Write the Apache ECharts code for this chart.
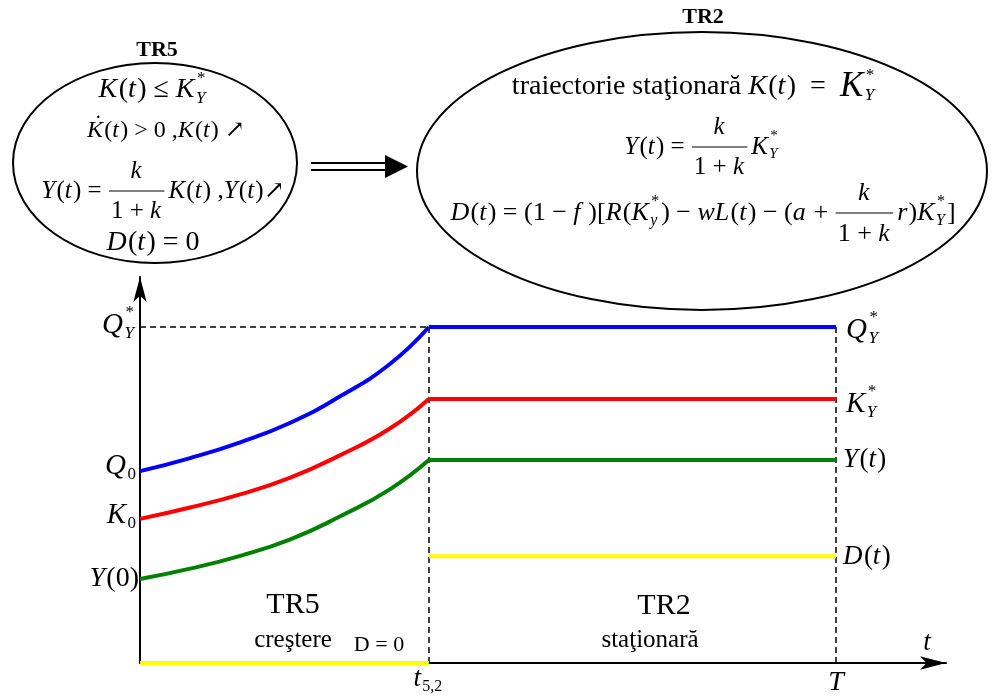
<!DOCTYPE html>
<html lang="ro">
<head>
<meta charset="UTF-8" />
<title>TR5 - TR2</title>
<script src="https://cdn.jsdelivr.net/npm/echarts@6/dist/echarts.min.js"></script>
<style>html,body{margin:0;padding:0;background:#fff}</style>
</head>
<body>
<div id="main" style="width: 993px; height: 700px"></div>
<script>
// moments on the time axis: switch t5,2 and horizon T
const tSwitch = 4.15;
const tEnd = 10;
const tMax = 11.58;
const vMax = 11.49;

// TR5 (crestere): t from 0 to t5,2
const growthT = [0, 0.72, 1.44, 2.16, 2.87, 3.59, 4.15];
const qGrowth = [5.71, 6.1, 6.57, 7.15, 7.93, 8.9, 10];
const kGrowth = [4.29, 4.63, 5.02, 5.52, 6.18, 6.98, 7.86];
const yGrowth = [2.5, 2.81, 3.19, 3.68, 4.36, 5.17, 6.04];
const dGrowth = [0, 0, 0, 0, 0, 0, 0];

// TR2 (stationara): t from t5,2 to T
const stationT = [4.15, 10];
const qStation = [10, 10];
const kStation = [7.86, 7.86];
const yStation = [6.04, 6.04];
const dStation = [3.18, 3.18];

const pair = (ts, vs) => ts.map((t, i) => [t, vs[i]]);

function curve(name, color, ts, vs, smooth) {
  return {
    name: name, type: "line", data: pair(ts, vs), smooth: smooth,
    symbol: "none", silent: true, z: 3,
    lineStyle: { color: color, width: 4 }
  };
}

let myChart = echarts.init(document.getElementById("main"));

const axisCommon = {
  type: "value", min: 0,
  axisTick: { show: false }, axisLabel: { show: false }, splitLine: { show: false }
};

let series = [
  curve("Q", "#0000ff", growthT, qGrowth, 0.5),
  curve("K", "#ff0000", growthT, kGrowth, 0.5),
  curve("Y", "#008000", growthT, yGrowth, 0.5),
  curve("D", "#ffff00", growthT, dGrowth, false),
  curve("Q*", "#0000ff", stationT, qStation, false),
  curve("K*", "#ff0000", stationT, kStation, false),
  curve("Yt", "#008000", stationT, yStation, false),
  curve("Dt", "#ffff00", stationT, dStation, false)
];
// dashed guide lines at Q*, t5,2 and T
series[4].markLine = {
  symbol: "none", silent: true, animation: false, z: 1,
  label: { show: false },
  lineStyle: { color: "#000", type: [6, 4], width: 1.5 },
  data: [
    [{ coord: [0, qStation[0]] }, { coord: [tSwitch, qStation[0]] }],
    [{ coord: [tSwitch, 0] }, { coord: [tSwitch, qStation[0]] }],
    [{ coord: [tEnd, 0] }, { coord: [tEnd, qStation[0]] }]
  ]
};

myChart.setOption({
  animation: false,
  grid: { left: 140, top: 277, right: 47, bottom: 37, outerBoundsMode: "none" },
  xAxis: Object.assign({}, axisCommon, {
    max: tMax,
    axisLine: { show: true, onZero: false, symbol: ["none", "arrow"], symbolSize: [10, 26],
      lineStyle: { color: "#000", width: 2 } }
  }),
  yAxis: Object.assign({}, axisCommon, {
    max: vMax,
    axisLine: { show: true, onZero: false, symbol: ["none", "arrow"], symbolSize: [10, 25],
      lineStyle: { color: "#000", width: 2 } }
  }),
  series: series
});

// ---- small formula layout (text pieces, scripts, fractions) ----
const SERIF = '"Liberation Serif", "Times New Roman", "DejaVu Serif", serif';
const mctx = document.createElement("canvas").getContext("2d");
function font(size, italic, bold) {
  return (italic ? "italic " : "") + (bold ? "bold " : "") + size + "px " + SERIF;
}
function textW(str, f) { mctx.font = f; return mctx.measureText(str).width; }

function build(tokens, size) {
  let x = 0;
  const parts = [], bars = [];
  tokens.forEach((tk) => {
    if (tk.r !== undefined || tk.i !== undefined) {
      const it = tk.i !== undefined;
      const s = it ? tk.i : tk.r;
      const sz = tk.s || size;
      const f = font(sz, it);
      const w = textW(s, f);
      parts.push({ dx: x, dy: 0, text: s, font: f });
      if (tk.dot) parts.push({ dx: x + w * 0.45, dy: -sz * 0.25, text: "\u02D9", font: font(sz, false) });
      x += w + (it ? size * 0.05 : 0);
    } else if (tk.sb !== undefined || tk.sp !== undefined) {
      const ss = Math.round(size * 0.6);
      let w = 0;
      if (tk.sp) {
        const f = font(ss, false);
        parts.push({ dx: x + 1, dy: -size * 0.42, text: tk.sp, font: f });
        w = Math.max(w, textW(tk.sp, f) + 1);
      }
      if (tk.sb) {
        const f = font(ss, !tk.rm);
        parts.push({ dx: x, dy: size * 0.3, text: tk.sb, font: f });
        w = Math.max(w, textW(tk.sb, f));
      }
      x += w + 2;
    } else if (tk.fr) {
      const n = build(tk.fr[0], size), d = build(tk.fr[1], size);
      const w = Math.max(n.w, d.w) + 6;
      n.parts.forEach((p) => parts.push(Object.assign({}, p, { dx: x + (w - n.w) / 2 + p.dx, dy: p.dy - size * 0.78 })));
      d.parts.forEach((p) => parts.push(Object.assign({}, p, { dx: x + (w - d.w) / 2 + p.dx, dy: p.dy + size * 0.8 })));
      bars.push({ dx: x + 1, dy: 0, w: w - 2 });
      x += w + 3;
    }
  });
  return { w: x, parts: parts, bars: bars };
}

function place(tokens, size, x, cy, align) {
  const b = build(tokens, size);
  const x0 = align === "center" ? x - b.w / 2 : align === "right" ? x - b.w : x;
  const els = b.parts.map((p) => ({
    type: "text", x: x0 + p.dx, y: cy + p.dy, silent: true, z: 10,
    style: { text: p.text, font: p.font, fill: "#000", align: "left", verticalAlign: "middle",
      textAlign: "left", textVerticalAlign: "middle" }
  }));
  b.bars.forEach((br) => els.push({
    type: "line", silent: true, z: 10,
    shape: { x1: x0 + br.dx, y1: cy + br.dy, x2: x0 + br.dx + br.w, y2: cy + br.dy },
    style: { stroke: "#000", lineWidth: 1.2 }
  }));
  return els;
}

function plain(text, size, x, cy, opts) {
  opts = opts || {};
  return {
    type: "text", x: x, y: cy, silent: true, z: 10,
    style: { text: text, font: font(size, opts.italic, opts.bold), fill: "#000",
      align: "center", verticalAlign: "middle", textAlign: "center", textVerticalAlign: "middle" }
  };
}

const frac = { fr: [[{ i: "k" }], [{ r: "1 + " }, { i: "k" }]] };
const Kstar = [{ i: "K" }, { sb: "Y", sp: "*" }];

let els = [];

// boxes at the top
els.push({ type: "ellipse", silent: true, shape: { cx: 155, cy: 163, rx: 142, ry: 100 },
  style: { fill: "none", stroke: "#000", lineWidth: 2 } });
els.push({ type: "ellipse", silent: true, shape: { cx: 702, cy: 171, rx: 285, ry: 139 },
  style: { fill: "none", stroke: "#000", lineWidth: 2 } });
els.push(plain("TR5", 22, 157, 50, { bold: true }));
els.push(plain("TR2", 22, 703, 17, { bold: true }));

// double arrow between the boxes
els.push({ type: "line", silent: true, shape: { x1: 311, y1: 163, x2: 388, y2: 163 }, style: { stroke: "#000", lineWidth: 2 } });
els.push({ type: "line", silent: true, shape: { x1: 311, y1: 170, x2: 388, y2: 170 }, style: { stroke: "#000", lineWidth: 2 } });
els.push({ type: "polygon", silent: true, shape: { points: [[385, 155], [408, 166.5], [385, 178]] }, style: { fill: "#000" } });

// TR5 box text
els = els.concat(place([{ i: "K" }, { r: "(" }, { i: "t" }, { r: ") \u2264 " }].concat(Kstar), 28, 153, 90, "center"));
els = els.concat(place([{ i: "K", dot: true }, { r: "(" }, { i: "t" }, { r: ") > 0 ," }, { i: "K" }, { r: "(" }, { i: "t" }, { r: ") \u2197" }], 24, 166, 131, "center"));
els = els.concat(place([{ i: "Y" }, { r: "(" }, { i: "t" }, { r: ") = " }, frac, { i: "K" }, { r: "(" }, { i: "t" }, { r: ") ," }, { i: "Y" }, { r: "(" }, { i: "t" }, { r: ")\u2197" }], 25, 163, 191, "center"));
els = els.concat(place([{ i: "D" }, { r: "(" }, { i: "t" }, { r: ") = 0" }], 28, 153, 243, "center"));

// TR2 box text
els = els.concat(place([{ r: "traiectorie sta\u0163ionar\u0103 " }, { i: "K" }, { r: "(" }, { i: "t" }, { r: ")  =  " }, { i: "K", s: 35 }, { sb: "Y", sp: "*" }], 28, 694, 87, "center"));
els = els.concat(place([{ i: "Y" }, { r: "(" }, { i: "t" }, { r: ") = " }, frac].concat(Kstar), 25, 702, 147, "center"));
els = els.concat(place([{ i: "D" }, { r: "(" }, { i: "t" }, { r: ") = (1 \u2212 " }, { i: "f" }, { r: " )[" }, { i: "R" }, { r: "(" }, { i: "K" }, { sb: "y", sp: "*" }, { r: ") \u2212 " }, { i: "wL" }, { r: "(" }, { i: "t" }, { r: ") \u2212 (" }, { i: "a" }, { r: " + " }, frac, { i: "r" }, { r: ")" }].concat(Kstar, [{ r: "]" }]), 26, 703, 213, "center"));

// labels tied to the data values
const P = (t, v) => myChart.convertToPixel({ gridIndex: 0 }, [t, v]);
const p0 = P(0, 0), pEnd = P(tEnd, 0), pSw = P(tSwitch, 0), pMax = P(tMax, 0);
els = els.concat(place([{ i: "Q" }, { sb: "Y", sp: "*" }], 29, p0[0] - 4, P(0, qStation[0])[1] - 2, "right"));
els = els.concat(place([{ i: "Q" }, { sb: "0", rm: true }], 29, p0[0] - 2, P(0, qGrowth[0])[1] - 5, "right"));
els = els.concat(place([{ i: "K" }, { sb: "0", rm: true }], 29, p0[0] - 2, P(0, kGrowth[0])[1] - 4, "right"));
els = els.concat(place([{ i: "Y" }, { r: "(0)" }], 28, p0[0] - 1, P(0, yGrowth[0])[1], "right"));

els = els.concat(place([{ i: "Q" }, { sb: "Y", sp: "*" }], 29, pEnd[0] + 10, P(tEnd, qStation[0])[1] + 3, "left"));
els = els.concat(place([{ i: "K" }, { sb: "Y", sp: "*" }], 29, pEnd[0] + 10, P(tEnd, kStation[0])[1] + 5, "left"));
els = els.concat(place([{ i: "Y" }, { r: "(" }, { i: "t" }, { r: ")" }], 27, pEnd[0] + 7, P(tEnd, yStation[0])[1], "left"));
els = els.concat(place([{ i: "D" }, { r: "(" }, { i: "t" }, { r: ")" }], 27, pEnd[0] + 7, P(tEnd, dStation[0])[1] + 1, "left"));

els = els.concat(place([{ i: "t" }, { sb: "5,2", rm: true }], 27, pSw[0], p0[1] + 16, "center"));
els.push(plain("T", 28, pEnd[0], p0[1] + 20, { italic: true }));
els.push(plain("t", 27, pMax[0] - 19, p0[1] - 20, { italic: true }));

// phase captions inside the plot
els.push(plain("TR5", 30, 293, 605));
els.push(plain("cre\u015Ftere", 25, 293, 640));
els.push(plain("D = 0", 22, 379, 645));
els.push(plain("TR2", 30, 664, 606));
els.push(plain("sta\u0163ionar\u0103", 25, 650, 640));

myChart.setOption({ graphic: { elements: els } });
</script>
</body>
</html>
